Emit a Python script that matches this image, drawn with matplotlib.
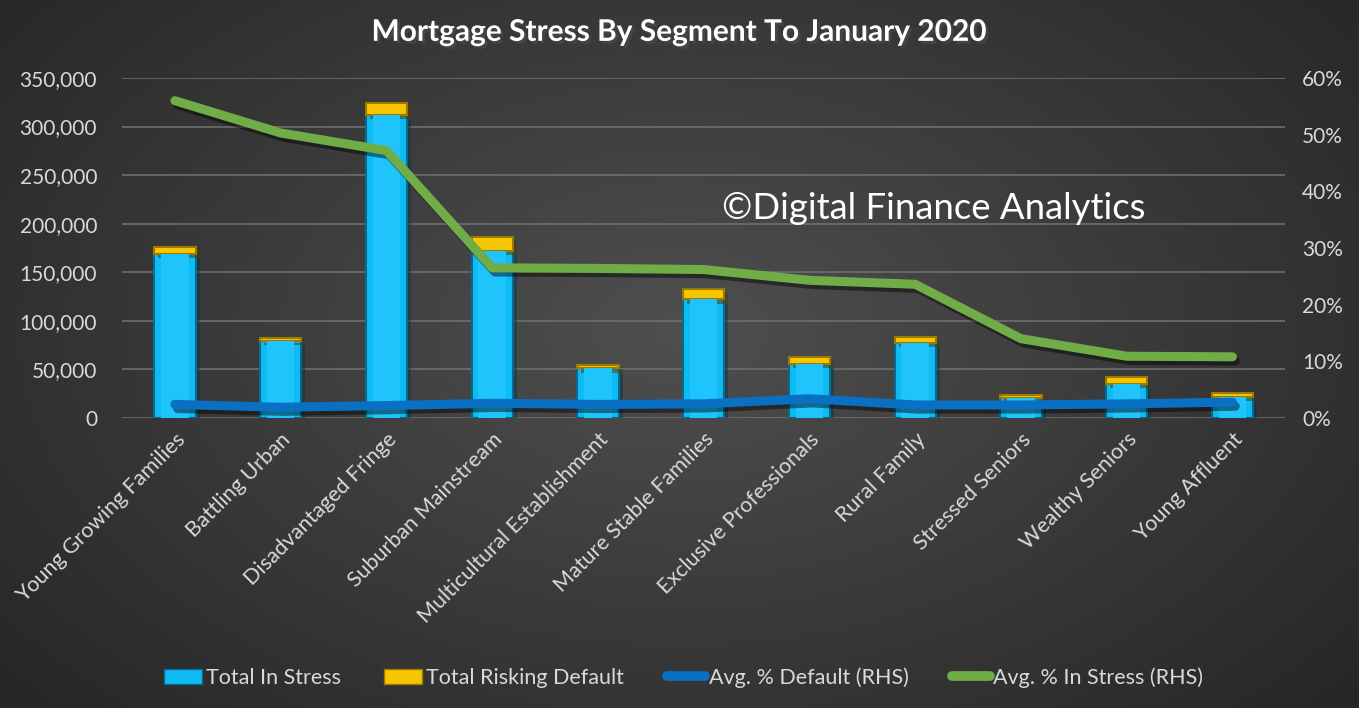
import matplotlib
matplotlib.use("Agg")
import matplotlib.pyplot as plt
import matplotlib.patheffects as pe
from matplotlib.patches import Patch
from matplotlib.lines import Line2D
from matplotlib.ticker import FuncFormatter
import numpy as np

segments = ["Young Growing Families", "Battling Urban", "Disadvantaged Fringe",
            "Suburban Mainstream", "Multicultural Establishment", "Mature Stable Families",
            "Exclusive Professionals", "Rural Family", "Stressed Seniors",
            "Wealthy Seniors", "Young Affluent"]
in_stress = [169000, 79500, 312000, 172000, 51000, 122000, 56000, 77000, 20500, 35500, 22000]
risking_default = [7000, 2500, 12000, 14000, 3500, 10500, 6500, 6500, 3000, 6500, 3500]
pct_default = [2.4, 1.9, 2.2, 2.6, 2.4, 2.5, 3.4, 2.3, 2.3, 2.5, 2.8]
pct_stress = [56.0, 50.3, 47.2, 26.5, 26.4, 26.2, 24.3, 23.6, 14.0, 10.9, 10.8]

plt.rcParams['font.family'] = ['Lato', 'DejaVu Sans']
txt = '#d9d9d9'

fig = plt.figure(figsize=(13.59, 7.08), dpi=100)

# radial grey background
bg = fig.add_axes([0, 0, 1, 1])
yy, xx = np.mgrid[0:708, 0:1359]
r = np.sqrt(((xx - 680) / 900.0) ** 2 + ((yy - 330) / 560.0) ** 2)
shade = np.clip(0.31 - 0.16 * r, 0.15, 0.31)
bg.imshow(np.dstack([shade] * 3), aspect='auto', extent=[0, 1, 0, 1])
bg.axis('off')

ax = fig.add_axes([0.0898, 0.4096, 0.856, 0.4802])
ax.patch.set_alpha(0)
x = np.arange(len(segments))
shadow = [pe.SimplePatchShadow(offset=(3, -3), alpha=0.5), pe.Normal()]
ax.bar(x, in_stress, width=0.39, color='#0FBBF3', edgecolor='#086a8f', linewidth=1.5,
       path_effects=shadow, zorder=3)
ax.bar(x, risking_default, bottom=in_stress, width=0.39, color='#F7C600',
       edgecolor='#9c7a00', linewidth=1.5, path_effects=shadow, zorder=3)
# lighter inner band for a bevelled look
ax.bar(x, in_stress, width=0.26, color='#1ec4fb', linewidth=0, zorder=3.5)
ax.set_ylim(0, 350000)
ax.set_xlim(-0.5, len(segments) - 0.5)
ax.set_yticks(np.arange(0, 350001, 50000))
ax.yaxis.set_major_formatter(FuncFormatter(lambda v, p: '{:,.0f}'.format(v)))
ax.grid(axis='y', color='#6e6e6e', linewidth=1.2, zorder=0)
ax.set_axisbelow(True)
ax.set_xticks(x)
ax.set_xticklabels(segments, rotation=45, ha='right', rotation_mode='anchor', color=txt, fontsize=15.5)
ax.tick_params(axis='y', colors=txt, labelsize=15, length=0, pad=18)
ax.tick_params(axis='x', length=0, pad=8)
for s in ax.spines.values():
    s.set_visible(False)

ax2 = ax.twinx()
lshadow = [pe.SimpleLineShadow(offset=(2, -3), alpha=0.45), pe.Normal()]
ax2.plot(x, pct_default, color='#0A70C4', linewidth=6.5, solid_capstyle='round',
         solid_joinstyle='round', path_effects=lshadow, zorder=4)
ax2.plot(x, pct_stress, color='#70AD47', linewidth=6.5, solid_capstyle='round',
         solid_joinstyle='round', path_effects=lshadow, zorder=4)
ax2.set_ylim(0, 60)
ax2.set_yticks(np.arange(0, 61, 10))
ax2.yaxis.set_major_formatter(FuncFormatter(lambda v, p: '{:.0f}%'.format(v)))
ax2.tick_params(axis='y', colors=txt, labelsize=15, length=0, pad=12)
for s in ax2.spines.values():
    s.set_visible(False)

fig.text(0.5, 0.955, 'Mortgage Stress By Segment To January 2020', ha='center', va='center',
         color='white', fontsize=21.5, fontweight='bold',
         path_effects=[pe.withSimplePatchShadow(offset=(2, -2), alpha=0.6)])
fig.text(0.531, 0.705, '\u00a9Digital Finance Analytics', ha='left', va='center',
         color='white', fontsize=26.3)

handles = [Patch(facecolor='#0FBBF3', edgecolor='#086a8f'),
           Patch(facecolor='#F7C600', edgecolor='#9c7a00'),
           Line2D([0], [0], color='#0A70C4', linewidth=7, solid_capstyle='round'),
           Line2D([0], [0], color='#70AD47', linewidth=7, solid_capstyle='round')]
labels = ['Total In Stress', 'Total Risking Default', 'Avg. % Default (RHS)', 'Avg. % In Stress (RHS)']
leg = fig.legend(handles, labels, loc='center', bbox_to_anchor=(0.503, 0.043), ncol=4,
                 frameon=False, fontsize=15.5, handlelength=1.8, handletextpad=0.15,
                 columnspacing=2.0)
for t in leg.get_texts():
    t.set_color(txt)

plt.savefig("out.png", dpi=100)
